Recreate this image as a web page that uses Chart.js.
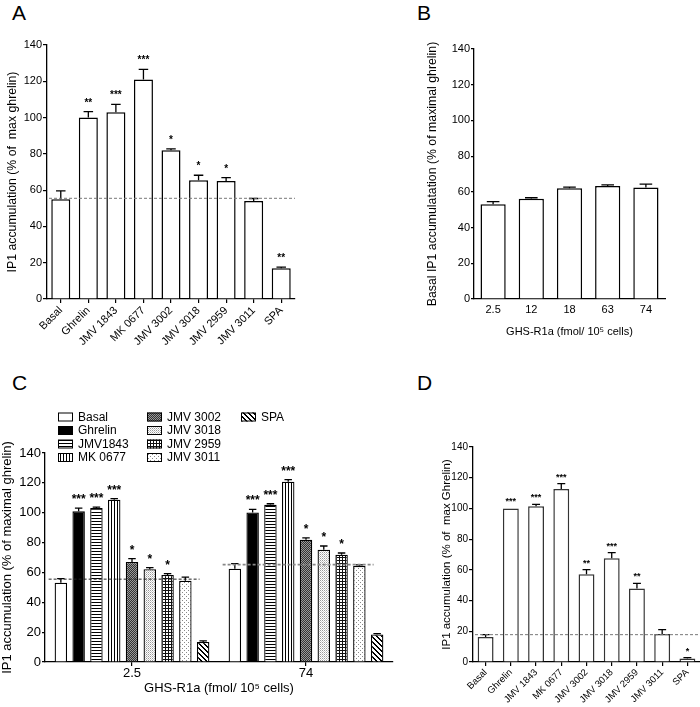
<!DOCTYPE html>
<html>
<head>
<meta charset="utf-8">
<script src="https://cdn.jsdelivr.net/npm/chart.js@4.4.0/dist/chart.umd.min.js"></script>
<style>
body { margin: 0; background: #fff; }
#wrap { position: relative; width: 700px; height: 707px; overflow: hidden; background: #fff; }
canvas { position: absolute; }
.letra { position: absolute; font: 21px "Liberation Sans", Arial, sans-serif; line-height: 1; color: #000; }
</style>
</head>
<body>
<div id="wrap">
  <div class="letra" style="left:12px;top:2px">A</div>
  <div class="letra" style="left:417px;top:2px">B</div>
  <div class="letra" style="left:12px;top:372px">C</div>
  <div class="letra" style="left:417px;top:372px">D</div>
  <canvas id="grafico-a" width="350" height="350" style="left:0;top:0"></canvas>
  <canvas id="grafico-b" width="350" height="350" style="left:350px;top:0"></canvas>
  <canvas id="grafico-c" width="400" height="357" style="left:0;top:350px"></canvas>
  <canvas id="grafico-d" width="300" height="357" style="left:400px;top:350px"></canvas>
</div>
<script>
// Painel A - IP1 por composto
const categoriasA = ["Basal", "Ghrelin", "JMV 1843", "MK 0677", "JMV 3002", "JMV 3018", "JMV 2959", "JMV 3011", "SPA"];
const valoresA = [55, 100, 103, 121, 82, 65.5, 65, 54, 17];
const errosA = [4.6, 3.3, 4.3, 5.6, 0.8, 2.7, 1.9, 1.4, 0.6];
const estrelasA = ["", "**", "***", "***", "*", "*", "*", "", "**"];
const basalA = 55.5;

// Painel B - basal por densidade de receptor
const categoriasB = ["2.5", "12", "18", "63", "74"];
const valoresB = [53.1, 56.2, 62, 63.3, 62.4];
const errosB = [1.4, 0.5, 0.6, 0.6, 1.9];

// Painel C - dois niveis de receptor
const gruposC = ["2.5", "74"];
const compostosC = ["Basal", "Ghrelin", "JMV1843", "MK 0677", "JMV 3002", "JMV 3018", "JMV 2959", "JMV 3011", "SPA"];
const valoresC25 = [53.1, 100.9, 103.1, 108.7, 67, 62.1, 58.3, 54.5, 13.4];
const valoresC74 = [62.5, 100.2, 105.4, 120.8, 81.9, 75.2, 71.9, 64.3, 18.5];
const errosC25 = [2.7, 2.2, 0.7, 0.7, 2.2, 1.1, 0.9, 2.4, 0.7];
const errosC74 = [3.4, 2.1, 0.6, 1.3, 1.2, 2.5, 1.1, 0.7, 0.5];
const estrelasC = ["", "***", "***", "***", "*", "*", "*", "", ""];
const basalC = [55.5, 65.2];

// Painel D
const categoriasD = ["Basal", "Ghrelin", "JMV 1843", "MK 0677", "JMV 3002", "JMV 3018", "JMV 2959", "JMV 3011", "SPA"];
const valoresD = [16.3, 100, 101.4, 112.7, 57.1, 67.5, 47.8, 18.2, 2.2];
const errosD = [1.5, 0, 1.3, 3.4, 3, 3.7, 3.4, 2.9, 0.6];
const estrelasD = ["", "***", "***", "***", "**", "***", "**", "", "*"];
const basalD = 17.8;

const fonte = '"Liberation Sans", Arial, sans-serif';
Chart.defaults.font.family = fonte;
Chart.defaults.color = "#000";

// Padroes de preenchimento (hachuras do painel C)
function padrao(tam, fundo, desenho) {
    const c = document.createElement("canvas");
    c.width = tam; c.height = tam;
    const g = c.getContext("2d");
    g.fillStyle = fundo;
    g.fillRect(0, 0, tam, tam);
    desenho(g);
    return g.createPattern(c, "repeat");
}
const padroes = [
    "#ffffff",
    "#000000",
    padrao(3, "#fff", g => { g.fillStyle = "#000"; g.fillRect(0, 0, 3, 1); }),
    padrao(3, "#fff", g => { g.fillStyle = "#000"; g.fillRect(0, 0, 1, 3); }),
    padrao(2, "#999", g => { g.fillStyle = "#333"; g.fillRect(0, 1, 1, 1); g.fillRect(1, 0, 1, 1); }),
    padrao(2, "#fff", g => { g.fillStyle = "#999"; g.fillRect(0, 0, 1, 1); g.fillStyle = "#ccc"; g.fillRect(1, 1, 1, 1); }),
    padrao(3, "#fff", g => { g.fillStyle = "#111"; g.fillRect(0, 0, 3, 1); g.fillRect(0, 0, 1, 3); }),
    padrao(4, "#fff", g => { g.fillStyle = "#888"; g.fillRect(0, 0, 1, 1); g.fillRect(2, 2, 1, 1); }),
    padrao(5, "#fff", g => { g.fillStyle = "#000"; for (let i = 0; i < 5; i++) { g.fillRect(i, i, 1, 1); g.fillRect((i + 1) % 5, i, 1, 1); } })
];

// Plugin: barras de erro (so para cima) e asteriscos
const errosPlugin = {
    id: "errosBarras",
    afterDatasetsDraw(chart, args, opts) {
        const ctx = chart.ctx;
        const y = chart.scales.y;
        chart.data.datasets.forEach((ds, d) => {
            const meta = chart.getDatasetMeta(d);
            meta.data.forEach((bar, i) => {
                const v = ds.data[i];
                const e = ds.erros ? ds.erros[i] : 0;
                const yTopo = y.getPixelForValue(v + e);
                const meia = bar.width * (opts.cap || 0.25);
                ctx.save();
                ctx.strokeStyle = "#000";
                ctx.lineWidth = opts.espessura || 1.3;
                if (e > 0) {
                    ctx.beginPath();
                    ctx.moveTo(bar.x, bar.y);
                    ctx.lineTo(bar.x, yTopo);
                    ctx.moveTo(bar.x - meia, yTopo);
                    ctx.lineTo(bar.x + meia, yTopo);
                    ctx.stroke();
                }
                const s = ds.estrelas ? ds.estrelas[i] : "";
                if (s) {
                    ctx.fillStyle = "#000";
                    ctx.font = "bold " + opts.tamEstrela + "px " + fonte;
                    ctx.textAlign = "center";
                    ctx.textBaseline = "alphabetic";
                    ctx.fillText(s, bar.x, yTopo - opts.distEstrela);
                }
                ctx.restore();
            });
        });
    }
};

// Plugin: linha tracejada do basal
const basalPlugin = {
    id: "linhaBasal",
    afterDatasetsDraw(chart, args, opts) {
        if (opts.valor === undefined && !opts.grupos) return;
        const ctx = chart.ctx;
        const area = chart.chartArea;
        const y = chart.scales.y;
        ctx.save();
        ctx.setLineDash([3, 2]);
        if (opts.grupos) {
            const primeiro = chart.getDatasetMeta(0).data;
            const ultimo = chart.getDatasetMeta(opts.ultimo).data;
            opts.grupos.forEach((v, g) => {
                const py = y.getPixelForValue(v);
                ctx.strokeStyle = g === 0 ? "#222" : "#888";
                ctx.lineWidth = g === 0 ? 1 : 1.8;
                ctx.beginPath();
                ctx.moveTo(primeiro[g].x - primeiro[g].width / 2 - 6, py);
                ctx.lineTo(ultimo[g].x + ultimo[g].width / 2 + 8, py);
                ctx.stroke();
            });
        } else {
            const py = y.getPixelForValue(opts.valor);
            ctx.strokeStyle = "#777";
            ctx.lineWidth = 1;
            ctx.beginPath();
            ctx.moveTo(area.left + 2, py);
            ctx.lineTo(area.right, py);
            ctx.stroke();
        }
        ctx.restore();
    }
};

// Plugin: legenda em 3 colunas do painel C
const legendaPlugin = {
    id: "legendaC",
    afterDraw(chart, args, opts) {
        if (!opts.ativo) return;
        const ctx = chart.ctx;
        const colunas = [58, 147, 241];
        chart.data.datasets.forEach((ds, i) => {
            const x = colunas[Math.floor(i / 4)];
            const yy = 62.5 + (i % 4) * 13.5;
            ctx.save();
            ctx.fillStyle = ds.backgroundColor;
            ctx.fillRect(x, yy, 15, 9);
            ctx.strokeStyle = "#000";
            ctx.lineWidth = 1;
            ctx.strokeRect(x + 0.5, yy + 0.5, 14, 8);
            ctx.fillStyle = "#000";
            ctx.font = "12px " + fonte;
            ctx.textBaseline = "middle";
            ctx.fillText(ds.label, x + 20, yy + 5);
            ctx.restore();
        });
    }
};

function eixoY(titulo, tamTick, tamTitulo, largura, tick) {
    return {
        min: 0, max: 140,
        ticks: { stepSize: 20, padding: 1, font: { size: tamTick } },
        grid: { display: true, drawOnChartArea: false, drawTicks: true, tickLength: tick, color: "#000", lineWidth: 1.2 },
        border: { display: true, color: "#000", width: 1.3 },
        title: { display: true, text: titulo, font: { size: tamTitulo }, padding: { top: 0, bottom: 0 } },
        afterFit: s => { s.width = largura; }
    };
}

function eixoXRotado(tamTick, altura) {
    return {
        offset: true,
        ticks: { minRotation: 45, maxRotation: 45, autoSkip: false, padding: 1, font: { size: tamTick } },
        grid: { display: true, drawOnChartArea: false, offset: false, drawTicks: true, tickLength: 4, color: "#000", lineWidth: 1.2 },
        border: { display: true, color: "#000", width: 1.3 },
        afterFit: s => { s.height = altura; }
    };
}

// Grafico A
const configA = {
    type: "bar",
    data: {
        labels: categoriasA,
        datasets: [{
            data: valoresA, erros: errosA, estrelas: estrelasA,
            backgroundColor: "#fff", borderColor: "#000", borderWidth: 1.5,
            categoryPercentage: 1, barPercentage: 0.69
        }]
    },
    options: {
        responsive: false, animation: false, events: [],
        layout: { padding: { left: 0, top: 45, right: 55, bottom: 0 } },
        scales: { x: eixoXRotado(11, 51), y: eixoY("IP1 accumulation (% of  max ghrelin)", 11, 12.3, 47, 4) },
        plugins: {
            legend: { display: false }, tooltip: { enabled: false },
            errosBarras: { tamEstrela: 10, distEstrela: 6 },
            linhaBasal: { valor: basalA }
        }
    },
    plugins: [errosPlugin, basalPlugin]
};
configA.options.scales.y.title.padding = { top: 5, bottom: 0 };
new Chart(document.getElementById("grafico-a"), configA);

// Grafico B
const configB = {
    type: "bar",
    data: {
        labels: categoriasB,
        datasets: [{
            data: valoresB, erros: errosB,
            backgroundColor: "#fff", borderColor: "#000", borderWidth: 1.5,
            categoryPercentage: 1, barPercentage: 0.66
        }]
    },
    options: {
        responsive: false, animation: false, events: [],
        layout: { padding: { left: 75, top: 49, right: 35, bottom: 11 } },
        scales: {
            x: {
                offset: true,
                ticks: { padding: 4, font: { size: 11 } },
                grid: { display: true, drawOnChartArea: false, drawTicks: false },
                border: { display: true, color: "#000", width: 1.3 },
                title: { display: true, text: "GHS-R1a (fmol/ 10\u2075 cells)", font: { size: 11 }, padding: 0 },
                afterFit: s => { s.height = 40; }
            },
            y: eixoY("Basal IP1 accumulatation (% of maximal ghrelin)", 11, 12.3, 49, 3)
        },
        plugins: {
            legend: { display: false }, tooltip: { enabled: false },
            errosBarras: { tamEstrela: 10, distEstrela: 6 }
        }
    },
    plugins: [errosPlugin]
};
new Chart(document.getElementById("grafico-b"), configB);

// Grafico C
const dadosC = compostosC.map((nome, i) => ({
    label: nome,
    data: [valoresC25[i], valoresC74[i]],
    erros: [errosC25[i], errosC74[i]],
    estrelas: [estrelasC[i], estrelasC[i]],
    backgroundColor: padroes[i], borderColor: "#000", borderWidth: 1.3,
    categoryPercentage: 0.92, barPercentage: 0.7
}));
const configC = {
    type: "bar",
    data: { labels: gruposC, datasets: dadosC },
    options: {
        responsive: false, animation: false, events: [],
        layout: { padding: { left: 0, top: 103, right: 7, bottom: 11 } },
        scales: {
            x: {
                offset: true,
                ticks: { padding: 0, font: { size: 13 } },
                grid: { display: true, drawOnChartArea: false, offset: false, drawTicks: true, tickLength: 4, color: "#000", lineWidth: 1.2 },
                border: { display: true, color: "#000", width: 1.3 },
                title: { display: true, text: "GHS-R1a (fmol/ 10\u2075 cells)", font: { size: 13 }, padding: 0 },
                afterFit: s => { s.height = 34; }
            },
            y: eixoY("IP1 accumulation (% of maximal ghrelin)", 13, 13, 45, 3)
        },
        plugins: {
            legend: { display: false }, tooltip: { enabled: false },
            errosBarras: { tamEstrela: 12, distEstrela: 5, cap: 0.3 },
            linhaBasal: { grupos: basalC, ultimo: 7 },
            legendaC: { ativo: true }
        }
    },
    plugins: [errosPlugin, basalPlugin, legendaPlugin]
};
new Chart(document.getElementById("grafico-c"), configC);

// Grafico D
const configD = {
    type: "bar",
    data: {
        labels: categoriasD,
        datasets: [{
            data: valoresD, erros: errosD, estrelas: estrelasD,
            backgroundColor: "#fff", borderColor: "#333", borderWidth: 1.5,
            categoryPercentage: 1, barPercentage: 0.63
        }]
    },
    options: {
        responsive: false, animation: false, events: [],
        layout: { padding: { left: 40, top: 97, right: 0, bottom: 0 } },
        scales: { x: eixoXRotado(9.5, 45), y: eixoY("IP1 accumulation (% of  max Ghrelin)", 10, 11.5, 33, 4) },
        plugins: {
            legend: { display: false }, tooltip: { enabled: false },
            errosBarras: { tamEstrela: 9, distEstrela: 4 },
            linhaBasal: { valor: basalD }
        }
    },
    plugins: [errosPlugin, basalPlugin]
};
new Chart(document.getElementById("grafico-d"), configD);
</script>
</body>
</html>
